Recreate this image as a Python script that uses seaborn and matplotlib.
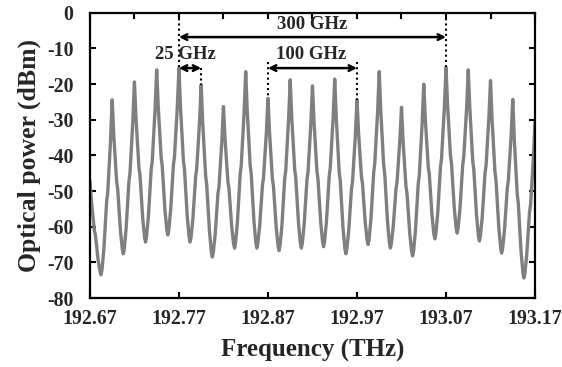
"""Optical frequency comb spectrum, 25 GHz spacing, drawn with seaborn."""

import matplotlib
matplotlib.use("Agg")
import matplotlib.pyplot as plt
import numpy as np
import pandas as pd
import seaborn as sns
from matplotlib.ticker import FixedLocator, MultipleLocator

sns.set_theme(style="ticks")
plt.rcParams["font.family"] = ["Liberation Serif", "DejaVu Serif"]
plt.rcParams["font.weight"] = "bold"
plt.rcParams["axes.unicode_minus"] = False
GREY = "#7f7f7f"

# comb lines (the first and last sit on the plot edges)
PEAK_THZ = [192.670, 192.695, 192.720, 192.745, 192.770, 192.795, 192.820,
            192.845, 192.870, 192.895, 192.920, 192.945, 192.970, 192.995,
            193.020, 193.045, 193.070, 193.095, 193.120, 193.145, 193.170]
PEAK_DB = [-47.0, -24.4, -19.4, -16.0, -15.5, -20.2, -26.3, -16.5, -24.0, -18.8,
           -20.5, -18.6, -24.4, -16.5, -26.5, -20.0, -15.3, -16.0, -19.0, -24.3, -30.5]
# dips between neighbouring lines
DIP_DB = [-73.5, -67.6, -64.3, -62.3, -64.3, -68.5, -66.0, -66.0, -66.7, -66.0,
          -65.6, -67.6, -65.0, -66.0, -68.2, -63.4, -61.8, -64.0, -67.4, -74.4]
PROFILE_DF = [-0.0125, -0.0114, -0.0093, -0.0062, -0.0050, -0.0018, 0.0]
PROFILE_FR = [0.0, 0.03, 0.15, 0.42, 0.47, 0.77, 1.0]

XTICKS = [192.67, 192.77, 192.87, 192.97, 193.07, 193.17]
YTICKS = [0, -10, -20, -30, -40, -50, -60, -70, -80]

# assemble the trace from peaks, dips and the profile
fx, fy = [], []
for i, (fp, pk) in enumerate(zip(PEAK_THZ, PEAK_DB)):
    if i > 0:  # rising side from previous dip
        d = DIP_DB[i - 1]
        for df, fr in zip(PROFILE_DF[1:], PROFILE_FR[1:]):
            fx.append(fp + df); fy.append(d + fr * (pk - d))
    else:
        fx.append(fp); fy.append(pk)
    if i < len(DIP_DB):  # falling side to next dip
        d = DIP_DB[i]
        for df, fr in zip(PROFILE_DF[::-1][1:], PROFILE_FR[::-1][1:]):
            fx.append(fp - df); fy.append(d + fr * (pk - d))
spec = pd.DataFrame({"f": fx, "p": fy})

fig, ax = plt.subplots(figsize=(5.62, 3.67), dpi=100)
fig.subplots_adjust(left=0.160, right=0.952, top=0.965, bottom=0.188)
sns.lineplot(data=spec, x="f", y="p", color=GREY, lw=2.4, ax=ax, sort=False, estimator=None)

ax.set_xlim(192.67, 193.17); ax.set_ylim(-80, 0)
ax.xaxis.set_major_locator(FixedLocator(XTICKS))
ax.xaxis.set_minor_locator(FixedLocator([192.72, 192.82, 192.92, 193.02, 193.12]))
ax.set_xticklabels([f"{t:.2f}" for t in XTICKS])
ax.yaxis.set_major_locator(FixedLocator(YTICKS))
ax.yaxis.set_minor_locator(MultipleLocator(100))
ax.tick_params(which="both", direction="in", top=True, right=True, width=1.5, length=4,
               labelsize=14.3, color="black")
ax.tick_params(which="minor", bottom=False, top=True)
ax.tick_params(axis="y", pad=12); ax.tick_params(axis="x", pad=8)
for s in ax.spines.values():
    s.set_linewidth(1.6); s.set_color("black")
ax.set_xlabel("Frequency (THz)", fontsize=18, fontweight="bold", labelpad=7)
ax.set_ylabel("Optical power (dBm)", fontsize=18.5, fontweight="bold", labelpad=4)

# spacing markers
dot = dict(color="black", ls=(0, (1, 1.5)), lw=1.5)
ax.plot([192.770, 192.770], [0, -15.5], **dot)
ax.plot([192.795, 192.795], [-15.5, -20.2], **dot)
ax.plot([192.870, 192.870], [-13.7, -24.0], **dot)
ax.plot([192.970, 192.970], [-13.7, -24.4], **dot)
ax.plot([193.070, 193.070], [0, -15.3], **dot)
arr = dict(arrowstyle="<->", lw=1.8, color="black", mutation_scale=10, shrinkA=0, shrinkB=0)
ax.annotate("", xy=(192.770, -6.8), xytext=(193.070, -6.8), arrowprops=arr)
ax.annotate("", xy=(192.770, -15.5), xytext=(192.795, -15.5), arrowprops=arr)
ax.annotate("", xy=(192.870, -15.5), xytext=(192.970, -15.5), arrowprops=arr)
ax.text(192.920, -3.3, "300 GHz", ha="center", va="center", fontsize=13.5, fontweight="bold")
ax.text(192.777, -11.8, "25 GHz", ha="center", va="center", fontsize=13.5, fontweight="bold")
ax.text(192.918, -11.8, "100 GHz", ha="center", va="center", fontsize=13.5, fontweight="bold")

fig.savefig("out.png", dpi=100)
plt.close(fig)
